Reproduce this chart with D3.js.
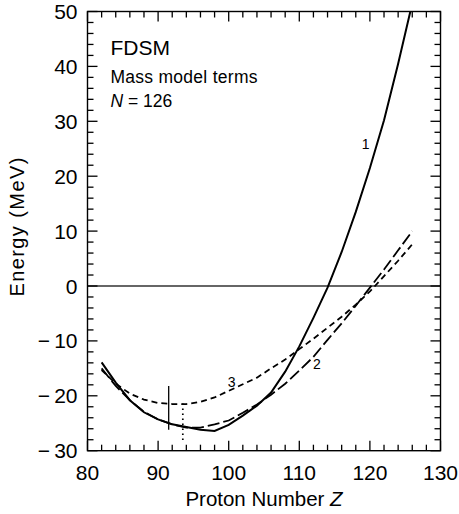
<!DOCTYPE html>
<html>
<head>
<meta charset="utf-8">
<script src="https://cdn.jsdelivr.net/npm/d3@7"></script>
<style>
  body { margin: 0; background: #fff; }
  svg { display: block; font-family: "Liberation Sans", Arial, Helvetica, sans-serif; }
</style>
</head>
<body>
<div class="svg-container"></div>
<script>
//Data (FDSM mass model terms, N = 126)
const protonZ = [82, 84, 86, 88, 90, 92, 94, 96, 98, 100, 102, 104, 106, 108, 110, 112, 114, 116, 118, 120, 122, 124, 126];
const energyTerm1 = [-13.9, -17.6, -20.8, -23.0, -24.3, -25.2, -25.7, -26.2, -26.4, -25.3, -23.6, -21.8, -19.4, -15.6, -11.0, -5.8, -0.3, 6.2, 13.5, 21.5, 30.2, 40.5, 51.5];
const energyTerm2 = [-15.0, -18.2, -20.8, -22.9, -24.3, -25.2, -25.8, -25.8, -25.2, -24.5, -23.1, -21.6, -19.8, -17.8, -15.4, -12.9, -9.8, -6.8, -3.6, -0.3, 3.0, 6.5, 10.0];
const energyTerm3 = [-15.3, -17.8, -19.6, -20.7, -21.3, -21.5, -21.5, -21.1, -20.3, -19.1, -17.9, -16.7, -15.0, -13.4, -11.5, -9.6, -7.6, -5.6, -3.4, -1.0, 1.8, 4.6, 7.6];

const curveNames = ['1', '2', '3'];
const curveLabelZ = [119.4, 112.5, 100.4];
const curveLabelE = [25.9, -14.2, -17.4];

//vertical markers near the minimum
const markerZ = [91.5, 93.5];
const markerTop = [-18.2, -21.4];
const markerBottom = [-26.2, -28.1];

const xTicks = [80, 90, 100, 110, 120, 130];
const yTicks = [-30, -20, -10, 0, 10, 20, 30, 40, 50];

const series = [energyTerm1, energyTerm2, energyTerm3].map((vals, i) => ({
    name: curveNames[i],
    points: protonZ.map((z, j) => ({ z: z, e: vals[j] }))
}));

const margin = {top: 11.5, right: 18.5, bottom: 63.3, left: 87.5};
const width = 459 - margin.left - margin.right;
const height = 514 - margin.top - margin.bottom;

const xScale = d3.scaleLinear().domain([80, 130]).range([0, width]);
const yScale = d3.scaleLinear().domain([-30, 50]).range([height, 0]);

const svg = d3.select('.svg-container')
    .append('svg')
    .attr('width', 459)
    .attr('height', 514)
    .append('g')
    .attr('transform', `translate(${margin.left}, ${margin.top})`);

svg.append('clipPath')
    .attr('id', 'plot-clip')
    .append('rect')
    .attr('width', width)
    .attr('height', height);

//zero line
svg.append('line')
    .attr('x1', 0).attr('x2', width)
    .attr('y1', yScale(0)).attr('y2', yScale(0))
    .attr('stroke', '#333')
    .attr('stroke-width', 1.3);

//Inward ticks on all four sides (minor every 2, major every 10)
const fmt = d => (d < 0 ? '\u2212\u2009' + Math.abs(d) : '' + d);
const xMinor = d3.range(80, 131, 2);
const yMinor = d3.range(-30, 51, 2);
const tickLen = d => (d % 10 == 0 ? 10 : 6);

const ticks = svg.append('g')
    .attr('stroke', '#000')
    .attr('stroke-width', 1.3);

[0, height].forEach(y0 => {
    const dir = y0 == 0 ? 1 : -1;
    ticks.append('g')
        .selectAll('line')
        .data(xMinor)
        .enter()
        .append('line')
        .attr('x1', d => xScale(d))
        .attr('x2', d => xScale(d))
        .attr('y1', y0)
        .attr('y2', d => y0 + dir * tickLen(d));
});

[0, width].forEach(x0 => {
    const dir = x0 == 0 ? 1 : -1;
    ticks.append('g')
        .selectAll('line')
        .data(yMinor)
        .enter()
        .append('line')
        .attr('y1', d => yScale(d))
        .attr('y2', d => yScale(d))
        .attr('x1', x0)
        .attr('x2', d => x0 + dir * tickLen(d));
});

//tick labels
svg.append('g')
    .selectAll('text')
    .data(xTicks)
    .enter()
    .append('text')
    .attr('x', d => xScale(d))
    .attr('y', height + 29)
    .attr('text-anchor', 'middle')
    .attr('font-size', 21)
    .text(d => d);

svg.append('g')
    .selectAll('text')
    .data(yTicks)
    .enter()
    .append('text')
    .attr('x', -10)
    .attr('y', d => yScale(d) + 7.5)
    .attr('text-anchor', 'end')
    .attr('font-size', 21)
    .text(fmt);

//frame
svg.append('rect')
    .attr('width', width)
    .attr('height', height)
    .attr('fill', 'none')
    .attr('stroke', '#000')
    .attr('stroke-width', 1.4);

//curves
const line = d3.line()
    .x(d => xScale(d.z))
    .y(d => yScale(d.e));

const dashes = ['none', '12,4', '6,4'];

svg.append('g')
    .attr('clip-path', 'url(#plot-clip)')
    .selectAll('path')
    .data(series)
    .enter()
    .append('path')
    .attr('d', d => line(d.points))
    .attr('fill', 'none')
    .attr('stroke', '#000')
    .attr('stroke-width', (d, i) => (i == 0 ? 2 : 1.8))
    .attr('stroke-dasharray', (d, i) => dashes[i]);

//curve labels
svg.append('g')
    .selectAll('text')
    .data(curveNames)
    .enter()
    .append('text')
    .attr('x', (d, i) => xScale(curveLabelZ[i]))
    .attr('y', (d, i) => yScale(curveLabelE[i]) + 5)
    .attr('text-anchor', 'middle')
    .attr('font-size', 14)
    .text(d => d);

//markers
svg.append('g')
    .selectAll('line')
    .data(markerZ)
    .enter()
    .append('line')
    .attr('x1', d => xScale(d))
    .attr('x2', d => xScale(d))
    .attr('y1', (d, i) => yScale(markerTop[i]))
    .attr('y2', (d, i) => yScale(markerBottom[i]))
    .attr('stroke', '#000')
    .attr('stroke-width', (d, i) => (i == 0 ? 1.3 : 1.7))
    .attr('stroke-dasharray', (d, i) => (i == 0 ? 'none' : '1.5,3.5'));

//header text
const header = svg.append('g').attr('transform', 'translate(23, 0)');
header.append('text').attr('y', 43.5).attr('font-size', 21).text('FDSM');
header.append('text').attr('y', 71.5).attr('font-size', 17.5).attr('textLength', 147).text('Mass model terms');
const nLine = header.append('text').attr('y', 95).attr('font-size', 17.5);
nLine.append('tspan').attr('font-style', 'italic').text('N');
nLine.append('tspan').text(' = 126');

//axis titles
const xTitle = svg.append('text')
    .attr('x', width / 2)
    .attr('y', height + 55)
    .attr('text-anchor', 'middle')
    .attr('font-size', 20.5);
xTitle.append('tspan').text('Proton Number ');
xTitle.append('tspan').attr('font-style', 'italic').text('Z');

svg.append('text')
    .attr('transform', `translate(${24 - margin.left}, ${height / 2 - 4}) rotate(-90)`)
    .attr('text-anchor', 'middle')
    .attr('font-size', 20)
    .attr('textLength', 139)
    .text('Energy (MeV)');
</script>
</body>
</html>
